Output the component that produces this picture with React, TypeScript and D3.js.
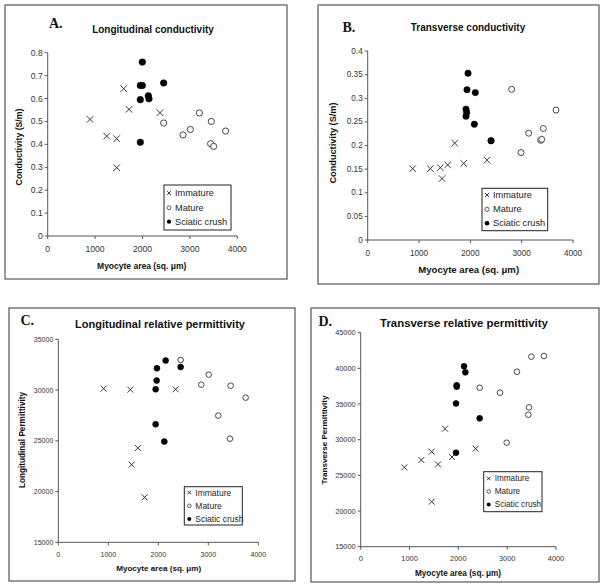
import React from 'react';
import * as d3 from 'd3';

type Pt = [number, number];

// ---------- data ----------
const seriesNames = ['Immature', 'Mature', 'Sciatic crush'];
const xTicks = [0, 1000, 2000, 3000, 4000];
const aYTicks = [0, 0.1, 0.2, 0.3, 0.4, 0.5, 0.6, 0.7, 0.8];
const bYTicks = [0, 0.05, 0.1, 0.15, 0.2, 0.25, 0.3, 0.35, 0.4];
const cYTicks = [15000, 20000, 25000, 30000, 35000];
const dYTicks = [15000, 20000, 25000, 30000, 35000, 40000, 45000];

const aImmature: Pt[] = [[893, 0.509], [1244, 0.436], [1455, 0.425], [1455, 0.298], [1603, 0.643], [1715, 0.553], [2369, 0.538]];
const aMature: Pt[] = [[2446, 0.493], [2854, 0.441], [3009, 0.465], [3199, 0.537], [3452, 0.5], [3438, 0.403], [3501, 0.391], [3754, 0.458]];
const aSciatic: Pt[] = [[1996, 0.759], [1954, 0.657], [1996, 0.657], [2446, 0.668], [2123, 0.612], [2137, 0.599], [1954, 0.595], [1954, 0.409]];

const bImmature: Pt[] = [[877, 0.151], [1221, 0.151], [1416, 0.153], [1448, 0.13], [1558, 0.159], [1695, 0.205], [1870, 0.162], [2325, 0.169]];
const bMature: Pt[] = [[2987, 0.185], [2805, 0.319], [3136, 0.226], [3370, 0.211], [3390, 0.213], [3422, 0.236], [3669, 0.275], [2403, 0.21]];
const bSciatic: Pt[] = [[1955, 0.353], [1935, 0.318], [2097, 0.312], [1916, 0.277], [1929, 0.27], [1916, 0.262], [2078, 0.245], [2403, 0.21]];

const cImmature: Pt[] = [[907, 30140], [1440, 30040], [2347, 30070], [1593, 24290], [1467, 22650], [1727, 19430]];
const cMature: Pt[] = [[2447, 32960], [3007, 31520], [2860, 30530], [3447, 30430], [3747, 29250], [3200, 27480], [3433, 25210]];
const cSciatic: Pt[] = [[2147, 32900], [1973, 32140], [2447, 32270], [1967, 30930], [1947, 30070], [1947, 26630], [2120, 24920]];

const dImmature: Pt[] = [[894, 26120], [1242, 27150], [1454, 28320], [1454, 21310], [1584, 26540], [1727, 31540], [1870, 27570], [2355, 28740]];
const dMature: Pt[] = [[2437, 37290], [2853, 36590], [3201, 39530], [3495, 41640], [3754, 41730], [3447, 34530], [3433, 33500], [2990, 29580]];
const dSciatic: Pt[] = [[2116, 40280], [2143, 39440], [1966, 37620], [1966, 37430], [1952, 35090], [2437, 32990], [1952, 28180]];

// ---------- layout ----------
interface PanelCfg {
  letter: string;
  title: string;
  yLabel: string;
  yTicks: number[];
  yDomain: [number, number];
  immature: Pt[];
  mature: Pt[];
  sciatic: Pt[];
  frame: [number, number, number, number];
  xr: [number, number];
  yr: [number, number];
  letterPos: [number, number];
  titlePos: [number, number];
  titleSize: number;
  xLabelPos: [number, number];
  yLabelPos: [number, number];
  labelSize: number;
  yLabelSize: number;
  tickSize: number;
  xTickDy: number;
  legend: [number, number, number, number];
  legendRows: number[];
  legendSize: number;
  legMark: number;
  mark: number;
}

const FONT = 'Liberation Sans, Arial, Helvetica, sans-serif';
const SERIF = 'Liberation Serif, Times New Roman, serif';

const panels: PanelCfg[] = [
  {
    letter: 'A.', title: 'Longitudinal conductivity', yLabel: 'Conductivity (S/m)',
    yTicks: aYTicks, yDomain: [0, 0.8], immature: aImmature, mature: aMature, sciatic: aSciatic,
    frame: [5, 5, 287, 279], xr: [47.7, 237.3], yr: [236, 52.7],
    letterPos: [49, 28], titlePos: [153, 29], titleSize: 10,
    xLabelPos: [141.7, 266], yLabelPos: [18.5, 147], labelSize: 8.5, yLabelSize: 8.7,
    tickSize: 8.6, xTickDy: 12.5,
    legend: [164, 185, 231, 230], legendRows: [193, 207.7, 221.7], legendSize: 9.2, legMark: 1.9, mark: 3.3,
  },
  {
    letter: 'B.', title: 'Transverse conductivity', yLabel: 'Conductivity (S/m)',
    yTicks: bYTicks, yDomain: [0, 0.4], immature: bImmature, mature: bMature, sciatic: bSciatic,
    frame: [318, 5, 599, 284], xr: [367.7, 573], yr: [240, 51],
    letterPos: [342.5, 32], titlePos: [468, 27.5], titleSize: 10,
    xLabelPos: [468.7, 269.5], yLabelPos: [332.5, 143], labelSize: 9.6, yLabelSize: 9.2,
    tickSize: 8.2, xTickDy: 13,
    legend: [482, 188.3, 547.7, 230.7], legendRows: [195, 209.3, 223.3], legendSize: 9.2, legMark: 2.1, mark: 3.2,
  },
  {
    letter: 'C.', title: 'Longitudinal relative permittivity', yLabel: 'Longitudinal Permittivity',
    yTicks: cYTicks, yDomain: [15000, 35000], immature: cImmature, mature: cMature, sciatic: cSciatic,
    frame: [9, 308, 295, 581], xr: [58.3, 258.3], yr: [542.3, 339.3],
    letterPos: [20.5, 325], titlePos: [160, 323.5], titleSize: 11,
    xLabelPos: [158.7, 568.5], yLabelPos: [22.7, 440], labelSize: 8.1, yLabelSize: 8.2,
    tickSize: 7, xTickDy: 12.5,
    legend: [184.3, 486.7, 242.3, 525], legendRows: [492.5, 505.8, 519], legendSize: 8.5, legMark: 1.8, mark: 3,
  },
  {
    letter: 'D.', title: 'Transverse relative permittivity', yLabel: 'Transverse Permittivity',
    yTicks: dYTicks, yDomain: [15000, 45000], immature: dImmature, mature: dMature, sciatic: dSciatic,
    frame: [311, 308, 599, 582], xr: [360.7, 556], yr: [546.7, 332.7],
    letterPos: [318.5, 325.5], titlePos: [464, 322.5], titleSize: 11.4,
    xLabelPos: [458, 573], yLabelPos: [324.7, 440], labelSize: 8.2, yLabelSize: 8.1,
    tickSize: 7.4, xTickDy: 11.5,
    legend: [483.7, 471.7, 542, 511.7], legendRows: [478.5, 491.5, 504.5], legendSize: 8.2, legMark: 1.8, mark: 3,
  },
];

function Cross({ x, y, s }: { x: number; y: number; s: number }) {
  return (
    <g stroke="#222" strokeWidth={0.9}>
      <line x1={x - s} y1={y - s} x2={x + s} y2={y + s} />
      <line x1={x - s} y1={y + s} x2={x + s} y2={y - s} />
    </g>
  );
}

function Panel({ p }: { p: PanelCfg }) {
  const x = d3.scaleLinear().domain([0, 4000]).range(p.xr);
  const y = d3.scaleLinear().domain(p.yDomain).range(p.yr);
  const [fx0, fy0, fx1, fy1] = p.frame;
  const [lx0, ly0, lx1, ly1] = p.legend;
  const axisColor = '#555';
  const tickColor = '#333';
  const yFmt = (v: number) => String(v);
  return (
    <g>
      <rect x={fx0} y={fy0} width={fx1 - fx0} height={fy1 - fy0} fill="white" stroke="#555" strokeWidth={1.2} />
      <text x={p.letterPos[0]} y={p.letterPos[1]} fontFamily={SERIF} fontWeight="bold" fontSize={14} fill="#111">{p.letter}</text>
      <text x={p.titlePos[0]} y={p.titlePos[1]} fontFamily={FONT} fontWeight="bold" fontSize={p.titleSize} textAnchor="middle" dominantBaseline="central" fill="#111">{p.title}</text>
      {/* axes */}
      <line x1={p.xr[0]} x2={p.xr[1]} y1={p.yr[0]} y2={p.yr[0]} stroke={axisColor} strokeWidth={1} />
      <line x1={p.xr[0]} x2={p.xr[0]} y1={p.yr[0]} y2={p.yr[1]} stroke={axisColor} strokeWidth={1} />
      {xTicks.map((t) => (
        <g key={'x' + t}>
          <line x1={x(t)} x2={x(t)} y1={p.yr[0]} y2={p.yr[0] + 3} stroke={axisColor} strokeWidth={1} />
          <text x={x(t)} y={p.yr[0] + p.xTickDy} fontFamily={FONT} fontSize={p.tickSize} textAnchor="middle" dominantBaseline="central" fill={tickColor}>{t}</text>
        </g>
      ))}
      {p.yTicks.map((t) => (
        <g key={'y' + t}>
          <line x1={p.xr[0] - 3} x2={p.xr[0]} y1={y(t)} y2={y(t)} stroke={axisColor} strokeWidth={1} />
          <text x={p.xr[0] - 5} y={y(t)} fontFamily={FONT} fontSize={p.tickSize} textAnchor="end" dominantBaseline="central" fill={tickColor}>{yFmt(t)}</text>
        </g>
      ))}
      <text x={p.xLabelPos[0]} y={p.xLabelPos[1]} fontFamily={FONT} fontWeight="bold" fontSize={p.labelSize} textAnchor="middle" dominantBaseline="central" fill="#111">Myocyte area (sq. μm)</text>
      <text transform={`translate(${p.yLabelPos[0]},${p.yLabelPos[1]}) rotate(-90)`} fontFamily={FONT} fontWeight="bold" fontSize={p.yLabelSize} textAnchor="middle" dominantBaseline="central" fill="#111">{p.yLabel}</text>
      {/* points */}
      {p.immature.map((d, i) => <Cross key={'i' + i} x={x(d[0])} y={y(d[1])} s={p.mark} />)}
      {p.mature.map((d, i) => <circle key={'m' + i} cx={x(d[0])} cy={y(d[1])} r={p.mark - 0.2} fill="white" stroke="#333" strokeWidth={0.9} />)}
      {p.sciatic.map((d, i) => <circle key={'s' + i} cx={x(d[0])} cy={y(d[1])} r={p.mark} fill="#000" stroke="#000" strokeWidth={0.5} />)}
      {/* legend */}
      <rect x={lx0} y={ly0} width={lx1 - lx0} height={ly1 - ly0} fill="white" stroke="#222" strokeWidth={1} />
      {seriesNames.map((name, i) => {
        const ry = p.legendRows[i];
        const mx = lx0 + 5;
        return (
          <g key={name}>
            {i === 0 && <Cross x={mx} y={ry} s={p.legMark} />}
            {i === 1 && <circle cx={mx} cy={ry} r={p.legMark} fill="white" stroke="#333" strokeWidth={0.8} />}
            {i === 2 && <circle cx={mx} cy={ry} r={p.legMark + 0.2} fill="#000" />}
            <text x={lx0 + 11} y={ry} fontFamily={FONT} fontSize={p.legendSize} dominantBaseline="central" fill="#222">{name}</text>
          </g>
        );
      })}
    </g>
  );
}

export default function App() {
  return (
    <svg width={604} height={587} style={{ position: 'absolute', left: 0, top: 0, background: 'white' }}>
      <rect x={0} y={0} width={604} height={587} fill="white" />
      {panels.map((p) => <Panel key={p.letter} p={p} />)}
    </svg>
  );
}
